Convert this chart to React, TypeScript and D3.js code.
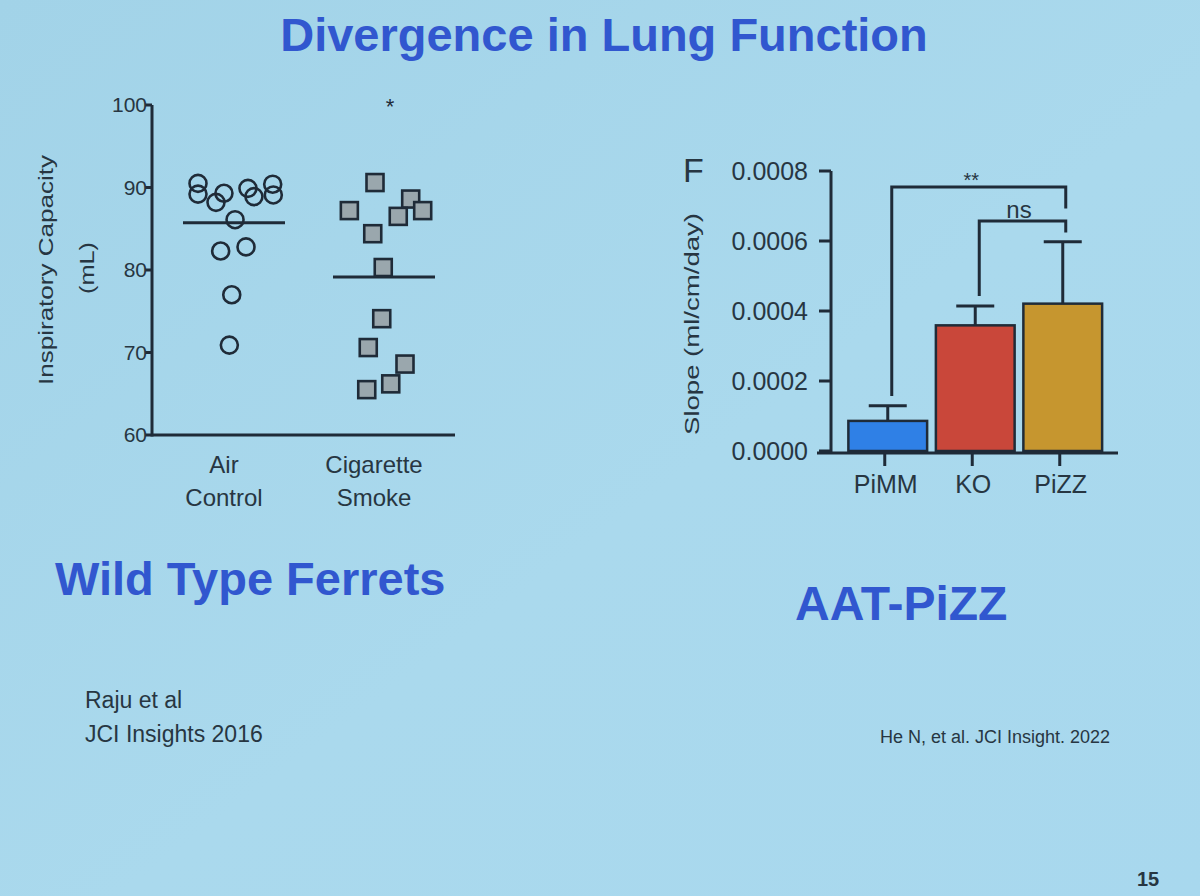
import React from 'react';
import * as d3 from 'd3';

const W = 1200;
const H = 896;

// left panel: wild type ferrets, inspiratory capacity (mL)
const groups = ['Air Control', 'Cigarette Smoke'];
const groupLines = [['Air', 'Control'], ['Cigarette', 'Smoke']];
const airControl = [90.5, 89.2, 88.2, 89.3, 89.9, 88.9, 90.4, 89.1, 86.1, 82.3, 82.8, 77.0, 70.9];
const airJitter = [-0.24, -0.24, -0.12, -0.067, 0.093, 0.133, 0.258, 0.262, 0.007, -0.089, 0.08, -0.015, -0.031];
const smoke = [90.6, 87.2, 88.6, 86.5, 87.2, 84.4, 80.3, 74.1, 70.6, 68.6, 66.2, 65.5];
const smokeJitter = [-0.06, -0.231, 0.178, 0.095, 0.258, -0.075, -0.005, -0.015, -0.105, 0.14, 0.045, -0.115];
const capacityTicks = [60, 70, 80, 90, 100];

// right panel: AAT-PiZZ, slope of lung function
const genotypes = ['PiMM', 'KO', 'PiZZ'];
const slopeMean = [0.000086, 0.000359, 0.000421];
const slopeErr = [0.000043, 0.000055, 0.000177];
const genoColors = ['#2f80e6', '#c9473a', '#c6962f'];
const slopeTicks = [0, 0.0002, 0.0004, 0.0006, 0.0008];
const comparisons = [
  { a: 'PiMM', b: 'PiZZ', label: '**', top: 0.000754, aEnd: 0.000157, bEnd: 0.000693 },
  { a: 'KO', b: 'PiZZ', label: 'ns', top: 0.000657, aEnd: 0.000443, bEnd: 0.000624 },
];

const FONT = '"Liberation Sans", Arial, Helvetica, sans-serif';
const INK = '#1f2b38';
const TEXT = '#273642';
const BLUE = '#3157cf';

export default function App() {
  // scales, left panel
  const yL = d3.scaleLinear().domain([60, 100]).range([435, 105]);
  const xL = d3.scaleBand().domain(groups).range([159, 459]);
  const bwL = xL.bandwidth();
  const axisXL = 152;

  // scales, right panel
  const yR = d3.scaleLinear().domain([0, 0.0008]).range([451, 171]);
  const xR = d3.scaleBand().domain(genotypes).range([844, 1106.5]).paddingInner(0.1).paddingOuter(0.05);
  const axisXR = 831;
  const cx = (g: string) => (xR(g) ?? 0) + xR.bandwidth() / 2;

  const airMean = d3.mean(airControl) ?? 0;
  const smokeMean = d3.mean(smoke) ?? 0;
  const air0 = (xL('Air Control') ?? 0) + bwL / 2;
  const smoke0 = (xL('Cigarette Smoke') ?? 0) + bwL / 2;
  const sq = 17;

  return (
    <div style={{ position: 'absolute', left: 0, top: 0, width: W, height: H }}>
      <svg width={W} height={H} style={{ display: 'block', fontFamily: FONT }}>
        <defs>
          <linearGradient id="bg" x1="0" y1="0" x2="1" y2="1">
            <stop offset="0%" stopColor="#a2d3e8" />
            <stop offset="55%" stopColor="#aad9ed" />
            <stop offset="100%" stopColor="#a8d8ee" />
          </linearGradient>
        </defs>
        <rect width={W} height={H} fill="url(#bg)" />

        <text x={604} y={51} textAnchor="middle" fontSize={47} fontWeight="bold" fill={BLUE}>
          Divergence in Lung Function
        </text>

        {/* ---------- left panel ---------- */}
        <g stroke={INK} strokeWidth={3} fill="none">
          <line x1={axisXL} x2={axisXL} y1={yL(100)} y2={yL(60) + 1.5} />
          <line x1={axisXL} x2={455} y1={yL(60)} y2={yL(60)} />
          {capacityTicks.map(t => (
            <line key={t} x1={axisXL - 7} x2={axisXL} y1={yL(t)} y2={yL(t)} />
          ))}
        </g>
        {capacityTicks.map(t => (
          <text key={t} x={axisXL - 5} y={yL(t)} dy="0.35em" textAnchor="end" fontSize={21} fill={TEXT}>
            {t}
          </text>
        ))}
        <g transform="translate(53,270) rotate(-90)">
          <text textAnchor="middle" fontSize={21} fill={TEXT} textLength={230} lengthAdjust="spacingAndGlyphs">
            Inspiratory Capacity
          </text>
        </g>
        <g transform="translate(94,268) rotate(-90)">
          <text textAnchor="middle" fontSize={21} fill={TEXT} textLength={52} lengthAdjust="spacingAndGlyphs">(mL)</text>
        </g>

        {/* mean lines */}
        <g stroke={INK} strokeWidth={3}>
          <line x1={air0 - bwL * 0.34} x2={air0 + bwL * 0.34} y1={yL(airMean)} y2={yL(airMean)} />
          <line x1={smoke0 - bwL * 0.34} x2={smoke0 + bwL * 0.34} y1={yL(smokeMean)} y2={yL(smokeMean)} />
        </g>

        {/* air control: open circles */}
        {airControl.map((v, i) => (
          <circle key={i} cx={air0 + airJitter[i] * bwL} cy={yL(v)} r={8.5} fill="none" stroke={INK} strokeWidth={2.6} />
        ))}
        {/* cigarette smoke: grey squares */}
        {smoke.map((v, i) => (
          <rect key={i} x={smoke0 + smokeJitter[i] * bwL - sq / 2} y={yL(v) - sq / 2} width={sq} height={sq}
            fill="#9aa7ad" stroke={INK} strokeWidth={2.6} />
        ))}
        <text x={smoke0 + 6} y={114} textAnchor="middle" fontSize={22} fill={INK}>*</text>

        {groups.map((g, i) => (
          <text key={g} x={(xL(g) ?? 0) + bwL / 2 - 10} y={473} textAnchor="middle" fontSize={24} fill={TEXT}>
            <tspan x={(xL(g) ?? 0) + bwL / 2 - 10}>{groupLines[i][0]}</tspan>
            <tspan x={(xL(g) ?? 0) + bwL / 2 - 10} dy={33}>{groupLines[i][1]}</tspan>
          </text>
        ))}

        <text x={55} y={595} fontSize={47} fontWeight="bold" fill={BLUE}>Wild Type Ferrets</text>
        <text x={85} y={708} fontSize={23} fill={TEXT}>Raju et al</text>
        <text x={85} y={742} fontSize={23} fill={TEXT}>JCI Insights 2016</text>

        {/* ---------- right panel ---------- */}
        <text x={683} y={182} fontSize={34} fill={TEXT}>F</text>

        {genotypes.map((g, i) => (
          <rect key={g} x={xR(g)} y={yR(slopeMean[i])} width={xR.bandwidth()} height={yR(0) - yR(slopeMean[i])}
            fill={genoColors[i]} stroke={INK} strokeWidth={2.5} />
        ))}
        <g stroke={INK} strokeWidth={3} fill="none">
          {genotypes.map((g, i) => (
            <g key={g}>
              <line x1={cx(g)} x2={cx(g)} y1={yR(slopeMean[i])} y2={yR(slopeMean[i] + slopeErr[i])} />
              <line x1={cx(g) - 19} x2={cx(g) + 19} y1={yR(slopeMean[i] + slopeErr[i])} y2={yR(slopeMean[i] + slopeErr[i])} />
            </g>
          ))}
          <line x1={axisXR} x2={axisXR} y1={yR(0.0008)} y2={yR(0) + 2} />
          <line x1={817} x2={1118} y1={yR(0) + 2} y2={yR(0) + 2} />
          {slopeTicks.map(t => (
            <line key={t} x1={axisXR - 12} x2={axisXR} y1={yR(t)} y2={yR(t)} />
          ))}
          {genotypes.map(g => (
            <line key={g} x1={cx(g) - 3} x2={cx(g) - 3} y1={yR(0) + 2} y2={yR(0) + 15} />
          ))}
          {comparisons.map(c => (
            <path key={c.label}
              d={`M${cx(c.a) + 4},${yR(c.aEnd)}V${yR(c.top)}H${cx(c.b) + 3}V${yR(c.bEnd)}`} />
          ))}
        </g>
        {comparisons.map(c => (
          <text key={c.label} x={(cx(c.a) + cx(c.b)) / 2 + (c.label === 'ns' ? 0 : -4)}
            y={yR(c.top) + (c.label === 'ns' ? -3 : 0)} textAnchor="middle"
            fontSize={c.label === 'ns' ? 24 : 20} fill={TEXT}>
            {c.label}
          </text>
        ))}
        {slopeTicks.map(t => (
          <text key={t} x={808} y={yR(t)} dy="0.36em" textAnchor="end" fontSize={25} fill={TEXT}>
            {d3.format('.4f')(t)}
          </text>
        ))}
        <g transform="translate(699,324) rotate(-90)">
          <text textAnchor="middle" fontSize={20} fill={TEXT} textLength={222} lengthAdjust="spacingAndGlyphs">
            Slope (ml/cm/day)
          </text>
        </g>
        {genotypes.map(g => (
          <text key={g} x={cx(g) - 2} y={493} textAnchor="middle" fontSize={25} fill={TEXT}>{g}</text>
        ))}

        <text x={795} y={620} fontSize={48} fontWeight="bold" fill={BLUE}>AAT-PiZZ</text>
        <text x={880} y={743} fontSize={18} fill={TEXT}>He N, et al. JCI Insight. 2022</text>
        <text x={1148} y={886} textAnchor="middle" fontSize={20} fontWeight="bold" fill={TEXT}>15</text>
      </svg>
    </div>
  );
}
